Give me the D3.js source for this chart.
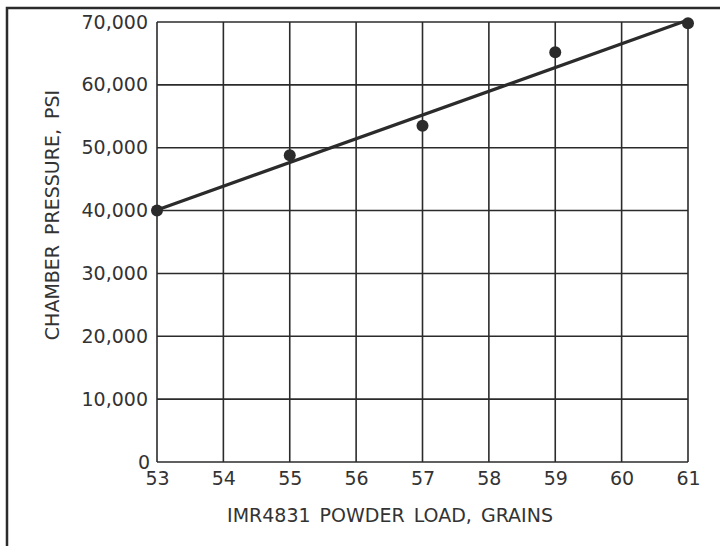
<!DOCTYPE html>
<html><head><meta charset="utf-8">
<script src="https://cdn.jsdelivr.net/npm/d3@7"></script>
<style>body{margin:0;background:#fff}svg{display:block}text{font-family:"DejaVu Sans",sans-serif;fill:#333}</style>
</head><body>
<svg id="c" width="720" height="546"></svg>
<script>
const loads = [53, 55, 57, 59, 61];
const pressures = [40000, 48800, 53500, 65200, 69800];
const fitLoads = [53, 61];
const fitPressures = [40100, 70300];
const xTicks = [53, 54, 55, 56, 57, 58, 59, 60, 61];
const yTicks = [0, 10000, 20000, 30000, 40000, 50000, 60000, 70000];
const xTitle = "IMR4831 POWDER LOAD, GRAINS";
const yTitle = "CHAMBER PRESSURE, PSI";

const svg = d3.select("#c");
const x = d3.scaleLinear().domain([53, 61]).range([157, 688]);
const y = d3.scaleLinear().domain([0, 70000]).range([462, 22]);
const ink = "#2b2b2b";

// outer frame
svg.append("path").attr("d", "M7,546 V8 H720").attr("fill", "none").attr("stroke", ink).attr("stroke-width", 2.5);

// grid
const g = svg.append("g");
g.selectAll(".v").data(xTicks).join("line")
  .attr("x1", d => x(d)).attr("x2", d => x(d)).attr("y1", y(0)).attr("y2", y(70000))
  .attr("stroke", ink).attr("stroke-width", 1.6);
g.selectAll(".h").data(yTicks).join("line")
  .attr("y1", d => y(d)).attr("y2", d => y(d)).attr("x1", x(53)).attr("x2", x(61))
  .attr("stroke", ink).attr("stroke-width", 1.6);

// axes labels via d3 axes
const fmt = d3.format(",");
const xa = svg.append("g").attr("transform", `translate(0,${y(0)})`)
  .call(d3.axisBottom(x).tickValues(xTicks).tickSize(0).tickPadding(10).tickFormat(d3.format("d")));
const ya = svg.append("g").attr("transform", `translate(${x(53)},0)`)
  .call(d3.axisLeft(y).tickValues(yTicks).tickSize(0).tickPadding(9).tickFormat(fmt));
[xa, ya].forEach(a => { a.select(".domain").remove(); a.selectAll("text").attr("font-size", 19).attr("fill", "#333").attr("font-family", "DejaVu Sans"); });
ya.selectAll(".tick").filter(d => d === 0).select("text").attr("x", -7);

// fit line
svg.append("line")
  .attr("x1", x(fitLoads[0])).attr("y1", y(fitPressures[0]))
  .attr("x2", x(fitLoads[1])).attr("y2", y(fitPressures[1]))
  .attr("stroke", ink).attr("stroke-width", 3.2);

// points
svg.selectAll(".pt").data(loads).join("circle")
  .attr("cx", d => x(d)).attr("cy", (d, i) => y(pressures[i])).attr("r", 6).attr("fill", ink);

// titles
svg.append("text").attr("x", 390).attr("y", 522).attr("text-anchor", "middle").attr("font-size", 19).attr("word-spacing", 3).text(xTitle);
svg.append("text").attr("transform", "translate(59,215) rotate(-90)").attr("text-anchor", "middle").attr("font-size", 19).attr("word-spacing", 4).text(yTitle);
</script>
</body></html>
